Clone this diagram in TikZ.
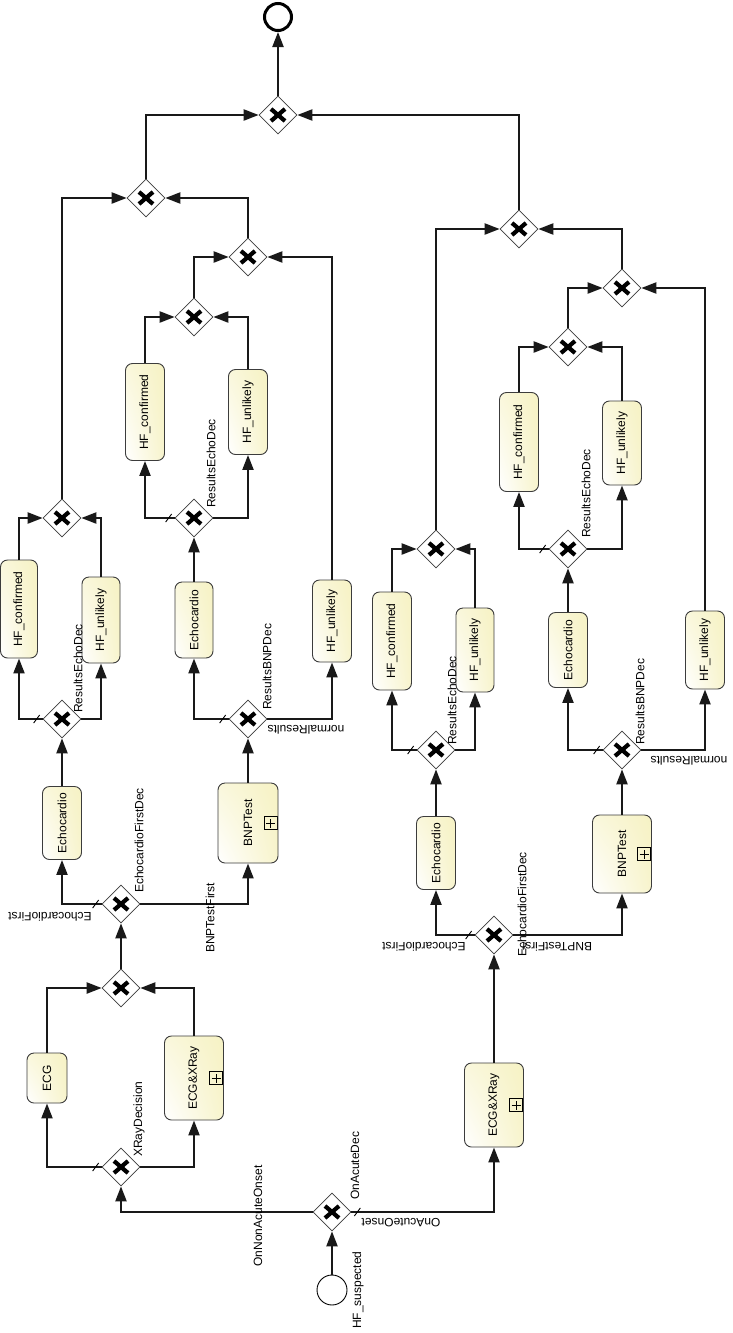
\documentclass[tikz,border=0pt]{standalone}
\usepackage{fontspec}
\usepackage{graphicx}
\usetikzlibrary{shapes.geometric,arrows.meta,shadings}
\newfontfamily\bpmnfont{Liberation Sans}
\definecolor{TaskYellow}{HTML}{F6F2C4}
\definecolor{EdgeGray}{HTML}{3C3C3C}
\newcommand{\dfslash}[1]{\draw[line width=0.9pt] (#1) ++(-3,4) -- ++(6,-8);}

\begin{document}
\begin{tikzpicture}[x=1pt,y=-1pt,
  every node/.style={font=\bpmnfont\fontsize{12}{14}\selectfont},
  task/.style={rectangle,rounded corners=7pt,draw=EdgeGray,line width=0.9pt,
    lower left=white,upper left=TaskYellow!60,upper right=TaskYellow,
    lower right=TaskYellow!85,inner sep=0pt,minimum width=39},
  subproc/.style={task,minimum width=59,path picture={
    \draw[sharp corners,draw=black,line width=0.8pt]
      ([xshift=-14pt,yshift=-6.5pt]path picture bounding box.east) rectangle
      ([xshift=-1pt,yshift=6.5pt]path picture bounding box.east)
      ([xshift=-7.5pt,yshift=-4.5pt]path picture bounding box.east) --
      ([xshift=-7.5pt,yshift=4.5pt]path picture bounding box.east)
      ([xshift=-12pt]path picture bounding box.east) --
      ([xshift=-3pt]path picture bounding box.east);}},
  gate/.style={diamond,draw=EdgeGray,line width=0.7pt,fill=white,inner sep=0pt,
    minimum width=38,minimum height=38,path picture={
    \draw[draw=black,line width=4.2pt]
      ([xshift=-7pt,yshift=-6pt]path picture bounding box.center) --
      ([xshift=7pt,yshift=6pt]path picture bounding box.center)
      ([xshift=-7pt,yshift=6pt]path picture bounding box.center) --
      ([xshift=7pt,yshift=-6pt]path picture bounding box.center);}},
  flow/.style={draw=black!90,line width=2.2pt,-{Triangle[length=15pt,width=11pt]}},
  lblup/.style={rotate=90,anchor=west,inner sep=0pt},
  lbldn/.style={rotate=180,inner sep=0pt}]
  \path[use as bounding box,fill=white] (0,0) rectangle (733,1333);
  \node[circle,draw,line width=0.9pt,minimum size=30,inner sep=0pt] (hfs) at (332,1290) {};
  \node[circle,draw,line width=3pt,minimum size=27,inner sep=0pt] (fin) at (278,17) {};
  \foreach \n/\x/\y in {gA/332/1212,gX/121/1167,mX/121/988,gFL/121/904,
    gREL1/62/719,mREL1/62/518,gRBL/248/719,gREL2/194/518,mREL2/194/317,
    mBL/248/257,mL/146/198,mT/278/115,gFR/494/935,gRER1/436/750,
    mRER1/436/549,gRBR/622/750,gRER2/568/549,mRER2/568/347,mBR/622/288,
    mR/519/229} {\node[gate] (\n) at (\x,\y) {};}
  \node[task,minimum width=40,minimum height=50] (ecg) at (47,1078) {\rotatebox{90}{ECG}};
  \node[subproc,minimum height=84] (xrL) at (194,1078) {\rotatebox{90}{ECG\&XRay}};
  \node[task,minimum height=73] (echoL1) at (62,823) {\rotatebox{90}{Echocardio}};
  \node[subproc,minimum width=60,minimum height=80] (bnpL) at (248,823) {\rotatebox{90}{BNPTest}};
  \node[task,minimum width=37,minimum height=98] (confL1) at (19,609) {\rotatebox{90}{HF\_confirmed}};
  \node[task,minimum width=38,minimum height=86] (unlL1) at (101,620) {\rotatebox{90}{HF\_unlikely}};
  \node[task,minimum width=38,minimum height=76] (echoL2) at (194,620) {\rotatebox{90}{Echocardio}};
  \node[task,minimum height=82] (unlL3) at (332,621) {\rotatebox{90}{HF\_unlikely}};
  \node[task,minimum height=97] (confL2) at (145,412) {\rotatebox{90}{HF\_confirmed}};
  \node[task,minimum height=85] (unlL2) at (248,412) {\rotatebox{90}{HF\_unlikely}};
  \node[subproc,minimum height=84] (xrR) at (494,1105) {\rotatebox{90}{ECG\&XRay}};
  \node[task,minimum height=73] (echoR1) at (436,853) {\rotatebox{90}{Echocardio}};
  \node[subproc,minimum height=78] (bnpR) at (622,854) {\rotatebox{90}{BNPTest}};
  \node[task,minimum height=98] (confR1) at (392,641) {\rotatebox{90}{HF\_confirmed}};
  \node[task,minimum width=38,minimum height=84] (unlR1) at (475,650) {\rotatebox{90}{HF\_unlikely}};
  \node[task,minimum height=75] (echoR2) at (568,650) {\rotatebox{90}{Echocardio}};
  \node[task,minimum height=78] (unlR3) at (705,650) {\rotatebox{90}{HF\_unlikely}};
  \node[task,minimum height=99] (confR2) at (519,442) {\rotatebox{90}{HF\_confirmed}};
  \node[task,minimum height=84] (unlR2) at (622,443) {\rotatebox{90}{HF\_unlikely}};
  \draw[flow] (hfs) -- (gA);
  \draw[flow] (gA.west) -| (gX.south);
  \draw[flow] (gA.east) -| (xrR.south);
  \draw[flow] (gX.west) -| (ecg.south);
  \draw[flow] (gX.east) -| (xrL.south);
  \draw[flow] (ecg.north) |- (mX.west);
  \draw[flow] (xrL.north) |- (mX.east);
  \draw[flow] (mX) -- (gFL);
  \draw[flow] (gFL.west) -| (echoL1.south);
  \draw[flow] (gFL.east) -| (bnpL.south);
  \draw[flow] (echoL1) -- (gREL1);
  \draw[flow] (gREL1.west) -| (confL1.south);
  \draw[flow] (gREL1.east) -| (unlL1.south);
  \draw[flow] (confL1.north) |- (mREL1.west);
  \draw[flow] (unlL1.north) |- (mREL1.east);
  \draw[flow] (bnpL) -- (gRBL);
  \draw[flow] (gRBL.west) -| (echoL2.south);
  \draw[flow] (gRBL.east) -| (unlL3.south);
  \draw[flow] (echoL2) -- (gREL2);
  \draw[flow] (gREL2.west) -| (confL2.south);
  \draw[flow] (gREL2.east) -| (unlL2.south);
  \draw[flow] (confL2.north) |- (mREL2.west);
  \draw[flow] (unlL2.north) |- (mREL2.east);
  \draw[flow] (mREL2.north) |- (mBL.west);
  \draw[flow] (unlL3.north) |- (mBL.east);
  \draw[flow] (mREL1.north) |- (mL.west);
  \draw[flow] (mBL.north) |- (mL.east);
  \draw[flow] (mL.north) |- (mT.west);
  \draw[flow] (xrR) -- (gFR);
  \draw[flow] (gFR.west) -| (echoR1.south);
  \draw[flow] (gFR.east) -| (bnpR.south);
  \draw[flow] (echoR1) -- (gRER1);
  \draw[flow] (gRER1.west) -| (confR1.south);
  \draw[flow] (gRER1.east) -| (unlR1.south);
  \draw[flow] (confR1.north) |- (mRER1.west);
  \draw[flow] (unlR1.north) |- (mRER1.east);
  \draw[flow] (bnpR) -- (gRBR);
  \draw[flow] (gRBR.west) -| (echoR2.south);
  \draw[flow] (gRBR.east) -| (unlR3.south);
  \draw[flow] (echoR2) -- (gRER2);
  \draw[flow] (gRER2.west) -| (confR2.south);
  \draw[flow] (gRER2.east) -| (unlR2.south);
  \draw[flow] (confR2.north) |- (mRER2.west);
  \draw[flow] (unlR2.north) |- (mRER2.east);
  \draw[flow] (mRER2.north) |- (mBR.west);
  \draw[flow] (unlR3.north) |- (mBR.east);
  \draw[flow] (mRER1.north) |- (mR.west);
  \draw[flow] (mBR.north) |- (mR.east);
  \draw[flow] (mR.north) |- (mT.east);
  \draw[flow] (mT) -- (fin);
  \foreach \g in {gX,gFL,gREL1,gRBL,gREL2,gFR,gRER1,gRBR,gRER2} {\dfslash{[xshift=-6pt]\g.west}}
  \dfslash{[xshift=6pt]gA.east}
  \node[lblup,anchor=center] (lSusp) at (358,1290) {HF\_suspected};
  \node[lblup] (lAcDec) at (355,1200) {OnAcuteDec};
  \node[lblup,anchor=center] (lNonAc) at (258,1216) {OnNonAcuteOnset};
  \node[lbldn] (lAcOn) at (401,1223) {OnAcuteOnset};
  \node[lblup] (lXRay) at (139,1157) {XRayDecision};
  \node[lblup] (lFDecL) at (139,893) {EchocardioFirstDec};
  \node[lbldn] (lEFL) at (50,917) {EchocardioFirst};
  \node[lblup] (lBFL) at (210,953) {BNPTestFirst};
  \node[lblup] (lRE1) at (78,713) {ResultsEchoDec};
  \node[lblup] (lRBL) at (267,710) {ResultsBNPDec};
  \node[lbldn] (lNormL) at (306,730) {normalResults};
  \node[lblup] (lRE2) at (211,508) {ResultsEchoDec};
  \node[lblup] (lFDecR) at (522,957) {EchocardioFirstDec};
  \node[lbldn] (lEFR) at (424,947) {EchocardioFirst};
  \node[lbldn] (lBFR) at (557,947) {BNPTestFirst};
  \node[lblup] (lRE3) at (452,745) {ResultsEchoDec};
  \node[lblup] (lRBR) at (640,745) {ResultsBNPDec};
  \node[lbldn] (lNormR) at (689,761) {normalResults};
  \node[lblup] (lRE4) at (586,538) {ResultsEchoDec};
\end{tikzpicture}
\end{document}
